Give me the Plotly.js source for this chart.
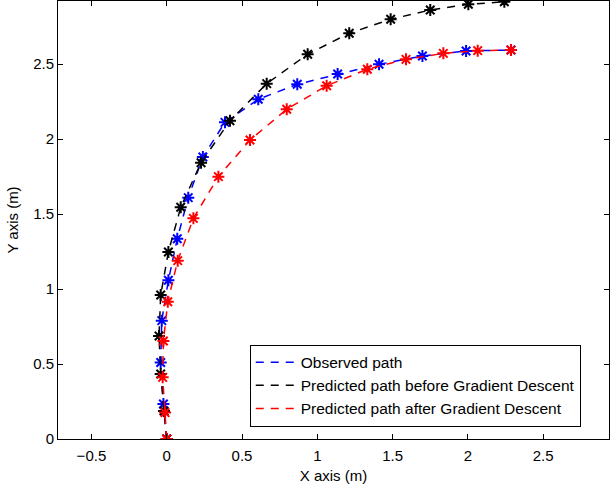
<!DOCTYPE html>
<html>
<head>
<meta charset="utf-8">
<script src="https://cdn.plot.ly/plotly-3.0.1.min.js"></script>
<style>html,body{margin:0;padding:0;background:#fff;}#chart{width:610px;height:486px;}</style>
</head>
<body>
<div id="chart"></div>
<script>
// Observed path (blue)
var obsX = [0, -0.022, -0.040, -0.033, 0.011, 0.070, 0.143, 0.240, 0.387, 0.608, 0.867, 1.135, 1.410, 1.698, 1.988, 2.286];
var obsY = [0, 0.233, 0.510, 0.789, 1.058, 1.335, 1.609, 1.880, 2.111, 2.265, 2.365, 2.433, 2.498, 2.553, 2.587, 2.593];
// Predicted path before Gradient Descent (black)
var befX = [0, -0.018, -0.040, -0.051, -0.040, 0.011, 0.093, 0.228, 0.420, 0.664, 0.936, 1.212, 1.487, 1.750, 2.003, 2.242];
var befY = [0, 0.187, 0.433, 0.687, 0.960, 1.247, 1.545, 1.842, 2.122, 2.369, 2.565, 2.705, 2.798, 2.860, 2.898, 2.915];
// Predicted path after Gradient Descent (red)
var aftX = [0, -0.011, -0.027, -0.022, 0.007, 0.073, 0.177, 0.343, 0.553, 0.797, 1.062, 1.332, 1.589, 1.837, 2.065, 2.286];
var aftY = [0, 0.176, 0.411, 0.653, 0.915, 1.189, 1.471, 1.749, 1.993, 2.198, 2.355, 2.465, 2.531, 2.571, 2.589, 2.593];

var names = ["Observed path", "Predicted path before Gradient Descent", "Predicted path after Gradient Descent"];
var colors = ["#0000ff", "#000000", "#ff0000"];
var xs = [obsX, befX, aftX];
var ys = [obsY, befY, aftY];

var traces = [];
for (var i = 0; i < 3; i++) {
  traces.push({
    x: xs[i], y: ys[i], type: "scatter", mode: "lines", name: names[i],
    line: {color: colors[i], width: 1.5, dash: "8px,7px"},
    showlegend: true, hoverinfo: "skip"
  });
  traces.push({
    x: xs[i], y: ys[i], type: "scatter", mode: "markers", name: names[i],
    marker: {symbol: "asterisk-open", size: 10, color: colors[i], line: {color: colors[i], width: 2}},
    showlegend: false
  });
}

var font = {family: "Liberation Sans, Arial, Helvetica, sans-serif", size: 15, color: "#000"};
var legFont = {family: "Liberation Sans, Arial, Helvetica, sans-serif", size: 15.5, color: "#000"};
var layout = {
  width: 610, height: 486,
  margin: {l: 58, r: 1, t: 1, b: 47},
  paper_bgcolor: "#fff", plot_bgcolor: "#fff",
  font: font,
  showlegend: true,
  xaxis: {
    range: [-0.722, 2.937], tickvals: [-0.5, 0, 0.5, 1, 1.5, 2, 2.5],
    ticks: "inside", ticklen: 5, tickcolor: "#000", tickwidth: 1,
    showline: true, linecolor: "#000", linewidth: 1, mirror: "ticks",
    showgrid: false, zeroline: false, ticklabelstandoff: 3,
    title: {text: "X axis (m)", font: font, standoff: 7},
    tickfont: font
  },
  yaxis: {
    range: [0, 2.92], tickvals: [0, 0.5, 1, 1.5, 2, 2.5],
    ticks: "inside", ticklen: 5, tickcolor: "#000", tickwidth: 1,
    showline: true, linecolor: "#000", linewidth: 1, mirror: "ticks",
    showgrid: false, zeroline: false,
    title: {text: "Y axis (m)", font: font, standoff: 10},
    tickfont: font
  },
  legend: {
    x: 0.348, y: 0.122, xanchor: "left", yanchor: "middle",
    bgcolor: "#fff", bordercolor: "#000", borderwidth: 1,
    font: legFont, itemwidth: 40, tracegroupgap: 0
  }
};

Plotly.newPlot("chart", traces, layout, {displayModeBar: false, staticPlot: true});
</script>
</body>
</html>
